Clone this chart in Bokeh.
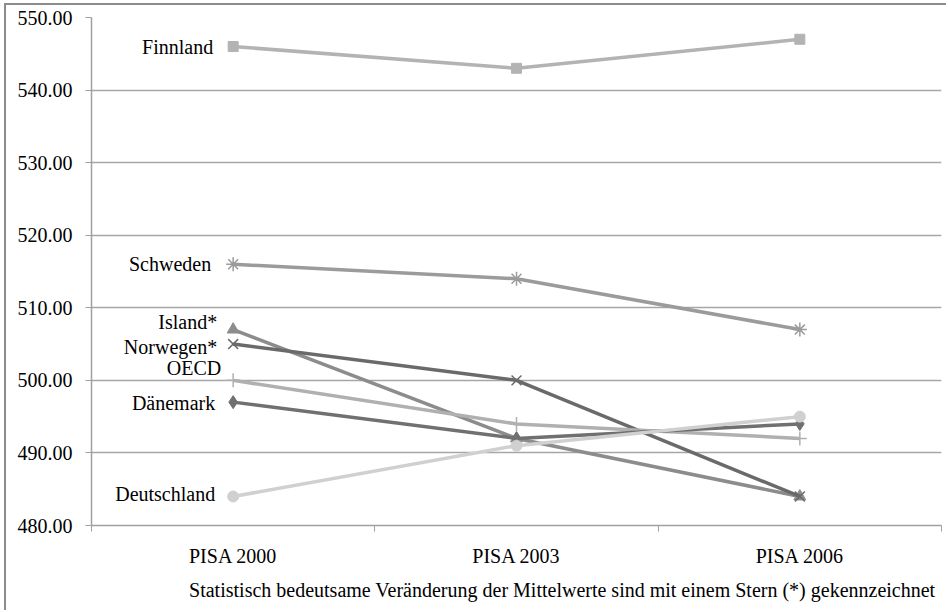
from bokeh.plotting import figure
from bokeh.models import (FixedTicker, PrintfTickFormatter, Range1d, Title,
                          ColumnDataSource)
from bokeh.core.properties import value
from bokeh.embed import file_html
from bokeh.resources import INLINE

categories = ["PISA 2000", "PISA 2003", "PISA 2006"]
y_ticks = [480, 490, 500, 510, 520, 530, 540, 550]

finnland = [546, 543, 547]
schweden = [516, 514, 507]
island = [507, 492, 484]
norwegen = [505, 500, 484]
oecd = [500, 494, 492]
daenemark = [497, 492, 494]
deutschland = [484, 491, 495]

series_names = ["Finnland", "Schweden", "Island*", "Norwegen*", "OECD", "Dänemark", "Deutschland"]
series_values = [finnland, schweden, island, norwegen, oecd, daenemark, deutschland]

footnote = "Statistisch bedeutsame Veränderung der Mittelwerte sind mit einem Stern (*) gekennzeichnet"

# styles (not data)
styles = {
    "Finnland":    dict(color="#b3b3b3", marker="square",   size=10, mlw=1),
    "Schweden":    dict(color="#9b9b9b", marker="asterisk", size=14, mlw=1.5),
    "Island*":     dict(color="#8c8c8c", marker="triangle", size=12, mlw=1),
    "Norwegen*":   dict(color="#6a6a6a", marker="x",        size=14, mlw=1.5),
    "OECD":        dict(color="#b0b0b0", marker="cross",    size=14, mlw=1.5),
    "Dänemark":    dict(color="#707070", marker="diamond",  size=13, mlw=1),
    "Deutschland": dict(color="#d0d0d0", marker="circle",   size=11, mlw=1),
}
label_offsets = {"Finnland": 0, "Schweden": 0, "Island*": -8, "Norwegen*": 3,
                 "OECD": -12, "Dänemark": 1, "Deutschland": -2}
label_xoff = {"Finnland": -20, "Schweden": -22, "Island*": -16, "Norwegen*": -16,
              "OECD": -12, "Dänemark": -18, "Deutschland": -18}

FONT = "'Liberation Serif', 'Times New Roman', serif"

xs = [i + 0.5 for i in range(len(categories))]

p = figure(width=942, height=607, output_backend="svg", toolbar_location=None,
           x_range=Range1d(0, len(categories)), y_range=Range1d(480, 550),
           min_border_left=85, min_border_right=7, min_border_top=12, min_border_bottom=87)
p.outline_line_color = None
p.background_fill_color = "white"
p.border_fill_color = "white"
p.styles = {"margin-left": "4px", "margin-top": "3px",
            "border-left": "2px solid #8c8c8c", "border-top": "2px solid #8c8c8c"}

# axes
p.xaxis.ticker = FixedTicker(ticks=xs, minor_ticks=list(range(len(categories) + 1)))
p.xaxis.major_label_overrides = {x: c for x, c in zip(xs, categories)}
p.xaxis.major_tick_line_color = None
p.xaxis.minor_tick_line_color = "#a0a0a0"
p.xaxis.minor_tick_out = 6
p.xaxis.minor_tick_in = 0
p.xaxis.axis_line_color = "#a0a0a0"
p.xaxis.axis_line_width = 1.5
p.xaxis.major_label_text_font = FONT
p.xaxis.major_label_text_font_size = "20px"
p.xaxis.major_label_text_color = "black"
p.xaxis.major_label_standoff = 13

p.yaxis.ticker = FixedTicker(ticks=y_ticks)
p.yaxis.formatter = PrintfTickFormatter(format="%.2f")
p.yaxis.major_tick_line_color = "#a0a0a0"
p.yaxis.major_tick_out = 6
p.yaxis.major_tick_in = 0
p.yaxis.minor_tick_line_color = None
p.yaxis.axis_line_color = "#a0a0a0"
p.yaxis.axis_line_width = 1.5
p.yaxis.major_label_text_font = FONT
p.yaxis.major_label_text_font_size = "20px"
p.yaxis.major_label_text_color = "black"
p.yaxis.major_label_standoff = 13

p.xgrid.grid_line_color = None
p.ygrid.ticker = FixedTicker(ticks=y_ticks)
p.ygrid.grid_line_color = "#a6a6a6"
p.ygrid.grid_line_width = 1.5

draw_order = ["Finnland", "Schweden", "Island*", "Norwegen*", "OECD", "Dänemark", "Deutschland"]
for name in draw_order:
    vals = series_values[series_names.index(name)]
    st = styles[name]
    src = ColumnDataSource(dict(x=xs, y=vals))
    p.line("x", "y", source=src, line_color=st["color"], line_width=3.5)
    if st["marker"] in ("asterisk", "x", "cross"):
        p.scatter("x", "y", source=src, marker=st["marker"], size=st["size"],
                  line_color=st["color"], line_width=st["mlw"], fill_color=None)
    else:
        p.scatter("x", "y", source=src, marker=st["marker"], size=st["size"],
                  line_color=st["color"], fill_color=st["color"])

# series labels at the first point
lab = ColumnDataSource(dict(
    x=[xs[0]] * len(series_names),
    y=[v[0] for v in series_values],
    text=series_names,
    xo=[label_xoff[n] for n in series_names],
    yo=[label_offsets[n] for n in series_names],
))
p.text("x", "y", text="text", source=lab, x_offset="xo", y_offset="yo",
       text_align="right", text_baseline="middle", text_font=value(FONT),
       text_font_size="20px", text_color="black")

# footnote
p.add_layout(Title(text=footnote, align="right", offset=6, standoff=15,
                   text_font=FONT, text_font_size="20px", text_font_style="normal",
                   text_color="black"), "below")

open("out.html", "w").write(file_html(p, INLINE))
